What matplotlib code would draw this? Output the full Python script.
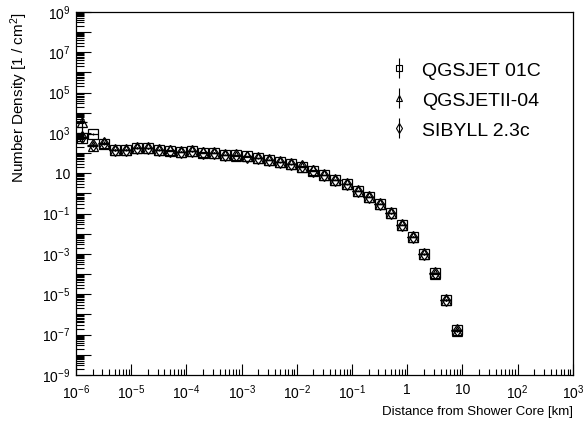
import numpy as np
import matplotlib
matplotlib.use("Agg")
import matplotlib.pyplot as plt
from matplotlib.ticker import LogLocator, FixedLocator, NullFormatter, FixedFormatter

plt.rcParams["font.family"] = ["Liberation Sans", "DejaVu Sans"]
plt.rcParams["mathtext.fontset"] = "custom"
plt.rcParams["mathtext.rm"] = "Liberation Sans"
plt.rcParams["mathtext.it"] = "Liberation Sans:italic"
plt.rcParams["mathtext.bf"] = "Liberation Sans:bold"

# bin centres of the lateral distribution [km], 5 log bins per decade
distance_km = [
    1.26e-6, 2.00e-6, 3.16e-6, 5.01e-6, 7.94e-6,
    1.26e-5, 2.00e-5, 3.16e-5, 5.01e-5, 7.94e-5,
    1.26e-4, 2.00e-4, 3.16e-4, 5.01e-4, 7.94e-4,
    1.26e-3, 2.00e-3, 3.16e-3, 5.01e-3, 7.94e-3,
    1.26e-2, 2.00e-2, 3.16e-2, 5.01e-2, 7.94e-2,
    1.26e-1, 2.00e-1, 3.16e-1, 5.01e-1, 7.94e-1,
    1.26, 2.00, 3.16, 5.01, 7.94,
]

# number density [1/cm^2] per hadronic model
qgsjet01 = [
    560, 870, 290, 145, 145,
    186, 174, 145, 132, 117,
    126, 105, 105, 81, 76,
    68, 56, 46, 35.5, 28.2,
    21.4, 13.5, 8.3, 4.7, 2.9,
    1.35, 0.69, 0.30, 0.105, 0.0275,
    7.2e-3, 9.8e-4, 1.1e-4, 5.2e-6, 1.7e-7,
]
qgsjet01_err = [
    150, 120, 40, 12, 10,
    12, 10, 8, 7, 6,
    6, 5, 4, 3, 3,
    2.5, 2, 1.6, 1.2, 0.9,
    0.7, 0.4, 0.25, 0.14, 0.09,
    0.04, 0.02, 0.01, 0.004, 0.0012,
    3.5e-4, 6e-5, 9e-6, 6e-7, 3e-8,
]

qgsjetII04 = [
    3600, 230, 330, 140, 150,
    180, 178, 140, 135, 115,
    122, 107, 103, 82, 75,
    69, 55, 47, 35.0, 28.5,
    21.0, 13.8, 8.1, 4.8, 2.85,
    1.38, 0.68, 0.31, 0.103, 0.028,
    7.0e-3, 1.0e-3, 1.05e-4, 5.0e-6, 1.6e-7,
]
qgsjetII04_err = [
    3000, 40, 45, 12, 10,
    12, 10, 8, 7, 6,
    6, 5, 4, 3, 3,
    2.5, 2, 1.6, 1.2, 0.9,
    0.7, 0.4, 0.25, 0.14, 0.09,
    0.04, 0.02, 0.01, 0.004, 0.0012,
    3.5e-4, 6e-5, 9e-6, 6e-7, 3e-8,
]

sibyll23c = [
    620, 250, 310, 150, 142,
    183, 170, 148, 130, 119,
    124, 104, 106, 80, 77,
    67, 57, 45, 36.0, 27.8,
    21.6, 13.3, 8.4, 4.6, 2.95,
    1.33, 0.70, 0.295, 0.107, 0.027,
    7.3e-3, 9.6e-4, 1.12e-4, 5.4e-6, 1.75e-7,
]
sibyll23c_err = [
    200, 50, 40, 12, 10,
    12, 10, 8, 7, 6,
    6, 5, 4, 3, 3,
    2.5, 2, 1.6, 1.2, 0.9,
    0.7, 0.4, 0.25, 0.14, 0.09,
    0.04, 0.02, 0.01, 0.004, 0.0012,
    3.5e-4, 6e-5, 9e-6, 6e-7, 3e-8,
]

models = ["QGSJET 01C", "QGSJETII-04", "SIBYLL 2.3c"]
markers = ["s", "^", "d"]

fig = plt.figure(figsize=(5.87, 4.23), dpi=100)
ax = fig.add_axes([0.1295, 0.1135, 0.8465, 0.8585])

x = np.array(distance_km)
# horizontal bars span the bin width (0.2 decade)
xerr = [x - x / 10**0.1, x * 10**0.1 - x]

series = [(qgsjet01, qgsjet01_err), (qgsjetII04, qgsjetII04_err), (sibyll23c, sibyll23c_err)]
for (y, yerr), mk in zip(series, markers):
    ax.errorbar(x, y, xerr=xerr, yerr=yerr, fmt=mk, ms=6.5,
                mfc="none", mec="black", mew=0.9, ecolor="black", elinewidth=0.9,
                capsize=0, color="black")

# legend proxies: marker with a vertical bar only
handles = []
for mk in markers:
    h = ax.errorbar([np.nan], [np.nan], yerr=[1], fmt=mk, ms=5 if mk != "d" else 5.5,
                    mfc="none", mec="black", mew=0.8, ecolor="black", elinewidth=0.8,
                    capsize=0, color="black")
    handles.append(h)
ax.legend(handles, models, loc="upper left", bbox_to_anchor=(0.595, 0.915),
          frameon=False, fontsize=14, handlelength=1.0, handletextpad=0.69,
          labelspacing=0.55, handleheight=1.0)

ax.set_xscale("log")
ax.set_yscale("log")
ax.set_xlim(1e-6, 1e3)
ax.set_ylim(1e-9, 1e9)

# x ticks
xt = [10.0**e for e in range(-6, 4)]
xlabels = [r"$10^{-6}$", r"$10^{-5}$", r"$10^{-4}$", r"$10^{-3}$", r"$10^{-2}$",
           r"$10^{-1}$", "1", "10", r"$10^{2}$", r"$10^{3}$"]
ax.xaxis.set_major_locator(FixedLocator(xt))
ax.xaxis.set_major_formatter(FixedFormatter(xlabels))
ax.xaxis.set_minor_locator(LogLocator(base=10, subs=np.arange(2, 10), numticks=50))
ax.xaxis.set_minor_formatter(NullFormatter())

# y ticks: every decade, labels every second one
yt = [10.0**e for e in range(-9, 10)]
ylabels = []
for e in range(-9, 10):
    if e % 2 == 0:
        ylabels.append("")
    elif e == 1:
        ylabels.append("10")
    else:
        ylabels.append(r"$10^{%d}$" % e)
ax.yaxis.set_major_locator(FixedLocator(yt))
ax.yaxis.set_major_formatter(FixedFormatter(ylabels))
ax.yaxis.set_minor_locator(LogLocator(base=10, subs=np.arange(2, 10), numticks=50))
ax.yaxis.set_minor_formatter(NullFormatter())

ax.tick_params(axis="x", which="major", direction="in", length=8, width=0.8,
               labelsize=10, pad=6, top=False)
ax.tick_params(axis="x", which="minor", direction="in", length=4.3, width=0.8, top=False)
ax.tick_params(axis="y", which="major", direction="in", length=10.8, width=0.8,
               labelsize=10, pad=4, right=False)
ax.tick_params(axis="y", which="minor", direction="in", length=5.8, width=0.8, right=False)

for s in ax.spines.values():
    s.set_linewidth(0.9)

ax.set_xlabel("Distance from Shower Core [km]", fontsize=9.5, loc="right", labelpad=3)
ax.set_ylabel(r"Number Density [1 / cm$^{2}$]", fontsize=11, loc="top", labelpad=9)

fig.savefig("out.png", dpi=100)
